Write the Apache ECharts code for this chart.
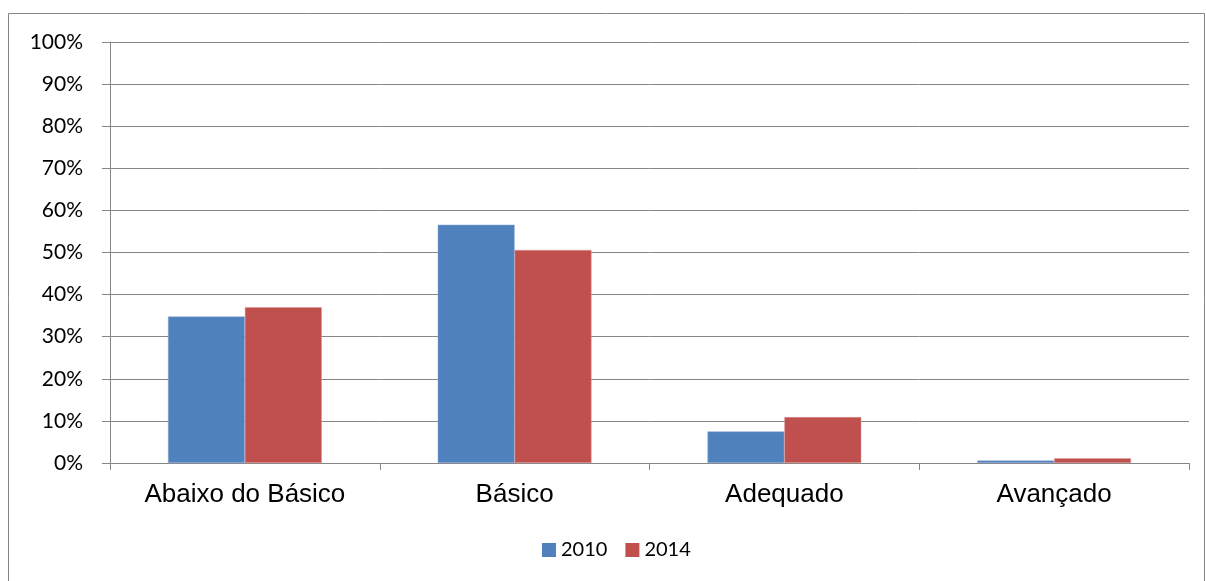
<!DOCTYPE html>
<html><head><meta charset="utf-8">
<script src="https://cdn.jsdelivr.net/npm/echarts@6/dist/echarts.min.js"></script>
<style>html,body{margin:0;padding:0;background:#fff}#c{width:1206px;height:581px}</style>
</head><body><div id="c"></div>
<script>
const categories = ['Abaixo do Básico', 'Básico', 'Adequado', 'Avançado'];
const series2010 = [34.8, 56.6, 7.5, 0.6];
const series2014 = [37.0, 50.6, 10.9, 1.1];
const yTicks = [0, 10, 20, 30, 40, 50, 60, 70, 80, 90, 100];

const chart = echarts.init(document.getElementById('c'));
const gray = '#868686';
chart.setOption({
  animation: false,
  graphic: [{type: 'rect', shape: {x: 8.5, y: 13.5, width: 1196, height: 580}, style: {fill: 'none', stroke: gray, lineWidth: 1}, silent: true}],
  grid: {left: 110, right: 17, top: 42, bottom: 118},
  legend: {
    data: ['2010', '2014'], top: 540, left: 542, padding: 0, icon: 'rect',
    itemWidth: 14, itemHeight: 14, itemGap: 18,
    itemStyle: {borderWidth: 0},
    textStyle: {fontFamily: 'Lato', fontSize: 20, color: '#000'}
  },
  xAxis: {
    type: 'category', data: categories,
    axisLine: {lineStyle: {color: gray, width: 1}},
    axisTick: {show: true, length: 7, lineStyle: {color: gray}},
    axisLabel: {fontFamily: 'Liberation Sans', fontSize: 26, color: '#000', margin: 19}
  },
  yAxis: {
    type: 'value', min: 0, max: 100, interval: 10,
    axisLine: {show: true, lineStyle: {color: gray}},
    axisTick: {show: true, length: 8, lineStyle: {color: gray}},
    splitLine: {lineStyle: {color: gray, width: 1}},
    axisLabel: {fontFamily: 'Lato', fontSize: 21, color: '#000', margin: 27,
      formatter: v => yTicks.includes(v) ? v + '%' : ''}
  },
  series: [
    {name: '2010', type: 'bar', data: series2010, barGap: '0%', barCategoryGap: '43%',
     itemStyle: {color: '#4F81BD', borderColor: '#8FAADC', borderWidth: 0.5}},
    {name: '2014', type: 'bar', data: series2014,
     itemStyle: {color: '#C0504D', borderColor: '#D99694', borderWidth: 0.5}}
  ]
});
</script></body></html>
